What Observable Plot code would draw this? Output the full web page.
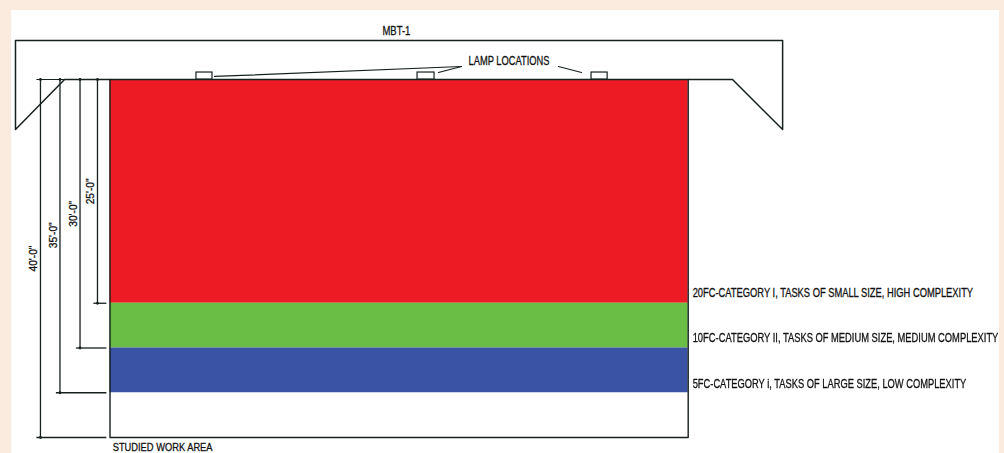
<!DOCTYPE html>
<html><head><meta charset="utf-8">
<script src="https://cdn.jsdelivr.net/npm/d3@7"></script>
<script src="https://cdn.jsdelivr.net/npm/@observablehq/plot@0.6"></script>
<style>html,body{margin:0;padding:0;background:#fbebdf;overflow:hidden}svg{display:block;filter:blur(0.45px)}</style>
</head><body><div id="c"></div>
<script>
// Section drawing. All values in feet: x along the room from the work-area edge,
// y downward from the ceiling plane.
const roomWidth = 64.6;
const workAreaDepth = 40;
const bandNames = ["20FC", "10FC", "5FC"];
const bandTop = [0, 25, 30];
const bandBottom = [25, 30, 35];
const bandText = [
  "20FC-CATEGORY I, TASKS OF SMALL SIZE, HIGH COMPLEXITY",
  "10FC-CATEGORY II, TASKS OF MEDIUM SIZE, MEDIUM COMPLEXITY",
  "5FC-CATEGORY i, TASKS OF LARGE SIZE, LOW COMPLEXITY"
];
const bandTextFeet = [23.9, 28.9, 34];
const dimFeet = [25, 30, 35, 40];
const dimX = [-1.4, -3.35, -5.59, -7.77];
const dimLabels = ["25'-0\"", "30'-0\"", "35'-0\"", "40'-0\""];
const dimLabelX = [-2.18, -4.08, -6.31, -8.55];
const dimLabelY = [12.5, 15, 17.4, 20];
const lampLeft = [9.66, 34.36, 53.8];
const lampRight = [11.45, 36.26, 55.6];
const lampTop = -0.78;
const roofX = [0, -5.08, -10.56, -10.56, 75.15, 75.15, 69.55, 64.6];
const roofY = [0, 0, 5.59, -4.36, -4.36, 5.59, 0, 0];
const leaders = [
  [[11.68, -0.34], [39.27, -1.45]],
  [[36.7, -0.78], [39.27, -1.45]],
  [[50.1, -1.45], [52.68, -0.78]]
];
const panel = {x1: -10.99, x2: 99.39, y1: -7.71, y2: 41.79};
// rendered widths of the condensed drafting lettering
const labelWidths = new Map([
  [bandText[0], 281], [bandText[1], 306], [bandText[2], 274],
  ["LAMP LOCATIONS", 81], ["MBT-1", 28], ["STUDIED WORK AREA", 100],
  [dimLabels[0], 26], [dimLabels[1], 26], [dimLabels[2], 26], [dimLabels[3], 26]
]);

const ink = "#16201f";
const font = "'Liberation Sans',sans-serif";
const bands = bandNames.map((name, i) => ({name, y1: bandTop[i], y2: bandBottom[i], text: bandText[i], ty: bandTextFeet[i]}));
const dims = dimFeet.map((feet, i) => ({feet, x: dimX[i], label: dimLabels[i], lx: dimLabelX[i], ly: dimLabelY[i]}));
const lamps = lampLeft.map((l, i) => ({x1: l, x2: lampRight[i], y1: lampTop, y2: 0}));
const roof = roofX.map((x, i) => ({x, y: roofY[i]}));
const textOpts = {fontFamily: font, fontSize: 12.5, fill: "#111", stroke: "#111", strokeWidth: 0.3};

const chart = Plot.plot({
  width: 1004, height: 453, margin: 0,
  style: {background: "transparent"},
  x: {domain: [-12.235, 99.94], range: [0, 1004], axis: null},
  y: {domain: [-8.827, 41.788], range: [0, 453], axis: null},
  color: {domain: bandNames, range: ["#ed1c24", "#6abd45", "#3a53a4"]},
  marks: [
    Plot.rect([panel], {x1: "x1", x2: "x2", y1: "y1", y2: "y2", fill: "#fff"}),
    Plot.rect(bands, {x1: 0, x2: roomWidth, y1: "y1", y2: "y2", fill: "name"}),
    // work area frame
    Plot.line([{x: 0, y: 0}, {x: 0, y: workAreaDepth}, {x: roomWidth, y: workAreaDepth}, {x: roomWidth, y: 0}, {x: 0, y: 0}],
      {x: "x", y: "y", stroke: ink, strokeWidth: 1.4}),
    // ceiling / roof section
    Plot.line(roof, {x: "x", y: "y", stroke: ink, strokeWidth: 1.5}),
    // lamps
    Plot.rect(lamps, {x1: "x1", x2: "x2", y1: "y1", y2: "y2", fill: "#fff", stroke: ink, strokeWidth: 1.2}),
    // lamp leaders
    ...leaders.map(l => Plot.line(l, {x: d => d[0], y: d => d[1], stroke: ink, strokeWidth: 1.2})),
    // dimension lines
    Plot.ruleY([0], {x1: dimX[3] - 0.4, x2: 0, stroke: ink, strokeWidth: 1.2}),
    Plot.ruleX(dims, {x: "x", y1: 0, y2: "feet", stroke: ink, strokeWidth: 1.3}),
    Plot.ruleY(dims, {y: "feet", x1: d => d.x - 0.4, x2: -0.35, stroke: ink, strokeWidth: 1.3}),
    Plot.dot(dims, {x: "x", y: "feet", r: 1.4, fill: ink}),
    Plot.dot(dims, {x: "x", y: 0, r: 1.4, fill: ink}),
    // text
    Plot.text(dims, {x: "lx", y: "ly", text: "label", rotate: -90, ...textOpts, fontSize: 11}),
    Plot.text(bands, {x: 65.1, y: "ty", text: "text", textAnchor: "start", ...textOpts}),
    Plot.text(["MBT-1"], {x: 32, y: -5.47, text: d => d, ...textOpts}),
    Plot.text(["LAMP LOCATIONS"], {x: 40.06, y: -2.07, text: d => d, textAnchor: "start", ...textOpts}),
    Plot.text(["STUDIED WORK AREA"], {x: 0.3, y: 41.08, text: d => d, textAnchor: "start", ...textOpts, fontSize: 11.5})
  ]
});
document.getElementById("c").append(chart);
// condense the lettering to the reference's drafting widths
d3.select(chart).selectAll("text").each(function () {
  const w = labelWidths.get(this.textContent);
  if (!w) return;
  const sx = w / this.getComputedTextLength();
  this.setAttribute("transform", `${this.getAttribute("transform") || ""} scale(${sx},1)`);
});
</script></body></html>
